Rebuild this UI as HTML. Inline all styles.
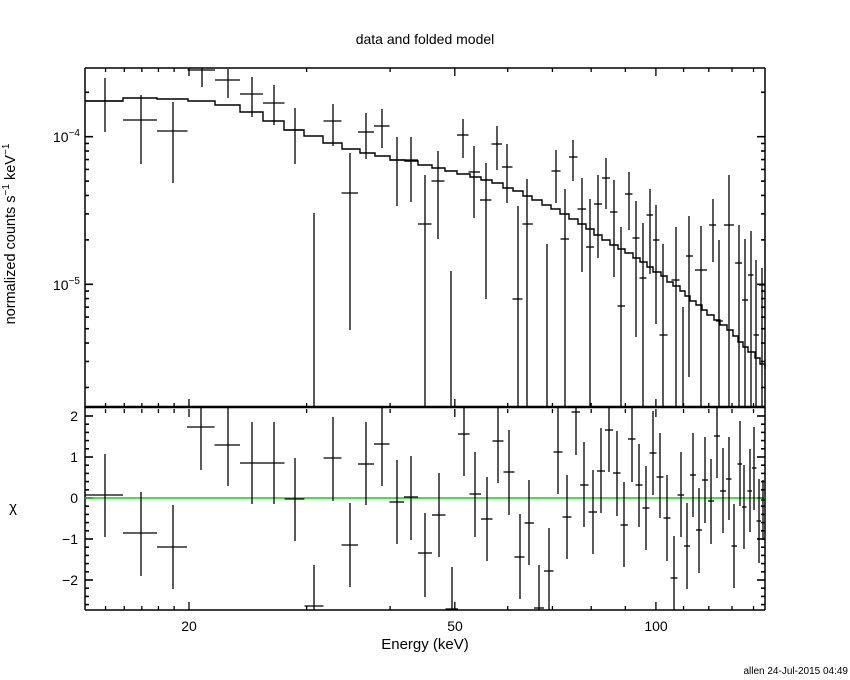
<!DOCTYPE html>
<html><head><meta charset="utf-8"><style>
body{margin:0;background:#fff;}
svg{display:block;font-family:"Liberation Sans",sans-serif;}
</style></head><body>
<svg id="s" width="850" height="680" xmlns="http://www.w3.org/2000/svg">
<rect width="850" height="680" fill="#fff"/>
<text x="425" y="44" font-size="14" text-anchor="middle">data and folded model</text>
<text x="80" y="142" font-size="14" text-anchor="end">10<tspan dy="-6" font-size="10">−4</tspan></text>
<text x="80" y="290" font-size="14" text-anchor="end">10<tspan dy="-6" font-size="10">−5</tspan></text>
<text transform="translate(15,234) rotate(-90)" font-size="14.5" text-anchor="middle">normalized counts s<tspan dy="-6" font-size="10">−1</tspan><tspan dy="6"> keV</tspan><tspan dy="-6" font-size="10">−1</tspan></text>
<text x="78" y="421" font-size="14" text-anchor="end">2</text>
<text x="78" y="462" font-size="14" text-anchor="end">1</text>
<text x="78" y="503" font-size="14" text-anchor="end">0</text>
<text x="78" y="544" font-size="14" text-anchor="end">−1</text>
<text x="78" y="585" font-size="14" text-anchor="end">−2</text>
<text x="13" y="512" font-size="15" text-anchor="middle">χ</text>
<text x="189" y="631" font-size="14" text-anchor="middle">20</text>
<text x="455" y="631" font-size="14" text-anchor="middle">50</text>
<text x="656" y="631" font-size="14" text-anchor="middle">100</text>
<text x="425" y="649" font-size="15" text-anchor="middle">Energy (keV)</text>
<text x="848" y="674" font-size="10" text-anchor="end">allen 24-Jul-2015 04:49</text>
<g id="g" stroke="#000" fill="none"></g>
</svg>
<script>
var g=document.getElementById('g'),NS="http://www.w3.org/2000/svg";
function L(x1,y1,x2,y2,w,c){var l=document.createElementNS(NS,'line');l.setAttribute('x1',x1);l.setAttribute('y1',y1);l.setAttribute('x2',x2);l.setAttribute('y2',y2);l.setAttribute('stroke-width',w||1.3);if(c)l.setAttribute('stroke',c);g.appendChild(l);}
var X0=85,X1=765;
function xE(E){return 189+668*Math.log10(E/20);}
function yV(v){return 136.7-147.6*(Math.log10(v)+4);}
L(X0,68,X1,68,1.5);L(X0,68,X0,610,1.5);L(X1,68,X1,610,1.5);L(X0,407,X1,407,2.5);L(X0,610,X1,610,1.5);
[15,16,17,18,19,20,30,40,50,60,70,80,90,100,110,120,130,140].forEach(function(E){var x=xE(E);if(x<X0||x>X1)return;var m=(E==20||E==50||E==100)?8:4;
L(x,68,x,68+m);L(x,407,x,407-m);L(x,409,x,409+m);L(x,610,x,610-m);});
[[2e-4,1],[1e-4,2],[9e-5,1],[8e-5,1],[7e-5,1],[6e-5,1],[5e-5,1],[4e-5,1],[3e-5,1],[2e-5,1],[1e-5,2],[9e-6,1],[8e-6,1],[7e-6,1],[6e-6,1],[5e-6,1],[4e-6,1],[3e-6,1],[2e-6,1]].forEach(function(t){var y=yV(t[0]);if(y<68||y>407)return;var m=t[1]==2?8:4;L(X0,y,X0+m,y,1.6);L(X1,y,X1-m,y,1.6);});
for(var k=-13;k<=11;k++){var v=k*0.2,y=498-41*v;if(y<409||y>610)continue;var m=(k%5==0)?8:4;L(X0,y,X0+m,y,1.6);L(X1,y,X1-m,y,1.6);}
var M=[[85,101],[123,98],[157,99],[188,101],[215,105],[240,112],[263,121],[284,130],[304,136],[323,143],[342,149],[360,153],[375,156],[390,160],[405,161],[418,165],[432,168],[445,171],[457,174],[470,177],[481,180],[492,183],[503,188],[513,191],[523,196],[532,200],[542,205],[551,209],[560,214],[569,219],[578,224],[586,229],[594,235],[602,240],[610,245],[618,249],[625,253],[633,258],[640,262],[647,267],[653,272],[661,276],[667,282],[673,286],[680,291],[685,296],[690,301],[696,305],[702,310],[707,315],[714,320],[720,325],[727,330],[733,336],[738,342],[743,347],[748,352],[755,358],[760,364],[765,369]];
var d="M"+M[0][0]+","+M[0][1];for(var i=1;i<M.length;i++){d+=" H"+M[i][0]+" V"+M[i][1];}d+=" H765";
var p=document.createElementNS(NS,'path');p.setAttribute('d',d);p.setAttribute('stroke-width','1.4');g.appendChild(p);
var U=[[105,101,78,132],[141,120,95,164],[173,131,102,183],[202,70,68,87],[228,80,69,98],[252,94,77,117],[274,103,85,125],[295,130,108,164],[314,null,213,407],[333,121,104,146],[350,193,153,330],[366,132,113,159],[382,126,109,148],[397,160,137,206],[411,160,137,202],[425,224,175,407],[438,181,151,239],[451,null,271,407],[463,135,119,158],[474,172,146,218],[486,200,163,299],[497,144,126,170],[507,167,144,203],[518,299,206,407],[527,224,179,407],[547,null,244,407],[556,171,150,203],[565,239,189,407],[573,157,140,181],[582,209,178,272],[590,247,199,407],[598,204,175,258],[606,178,158,209],[614,212,180,277],[621,306,227,407],[629,194,172,230],[636,238,201,337],[643,278,223,407],[650,215,189,274],[656,240,205,324],[663,335,244,407],[676,280,227,407],[683,null,307,407],[689,256,216,377],[701,270,226,407],[713,225,199,262],[719,321,240,407],[729,225,175,407],[739,263,225,407],[745,300,239,407],[751,275,231,407],[756,335,260,407],[762,285,268,407]];
var R=[[105,495,454,537],[141,533,492,576],[173,547,505,589],[201,427,408,470],[228,445,408,486],[252,463,422,504],[274,463,422,504],[295,499,458,541],[314,606,565,610],[333,458,417,501],[350,545,503,587],[366,464,422,505],[382,444,408,486],[397,502,460,544],[411,497,456,540],[425,553,513,597],[439,515,473,557],[452,609,567,610],[464,434,408,476],[475,494,452,537],[487,519,477,561],[498,441,408,483],[509,472,430,515],[520,557,514,599],[529,523,480,565],[539,608,565,610],[549,571,528,610],[558,452,408,494],[567,517,475,559],[576,412,408,455],[584,485,442,527],[593,512,470,554],[601,471,428,513],[609,430,408,472],[617,473,431,516],[624,525,482,567],[632,439,408,482],[639,485,444,527],[646,508,466,550],[653,453,411,495],[660,477,433,518],[667,518,475,561],[674,578,536,610],[681,495,452,537],[687,546,503,589],[693,475,433,517],[699,530,488,573],[705,480,437,523],[711,501,459,544],[717,436,408,478],[723,491,448,533],[729,479,437,520],[734,546,504,588],[740,464,421,506],[744,507,465,549],[750,491,449,532],[754,468,427,510],[759,521,479,563],[763,500,480,540]];
function draw(A){for(var i=0;i<A.length;i++){var a=A[i];var l=i>0?(a[0]-A[i-1][0])/2:a[0]-X0;var r=i<A.length-1?(A[i+1][0]-a[0])/2:Math.min(X1-a[0],l);if(i==0)l=a[0]-X0;l=Math.min(l,r*1.3);r=Math.min(r,l*1.3);if(i==0){l=a[0]-X0;r=18;}
L(a[0],a[2],a[0],a[3]);if(a[1]!==null)L(a[0]-l,a[1],a[0]+r,a[1]);}}
draw(U);
L(X0,498,X1,498,1.5,'#00dd00');
draw(R);
</script>
</body></html>
